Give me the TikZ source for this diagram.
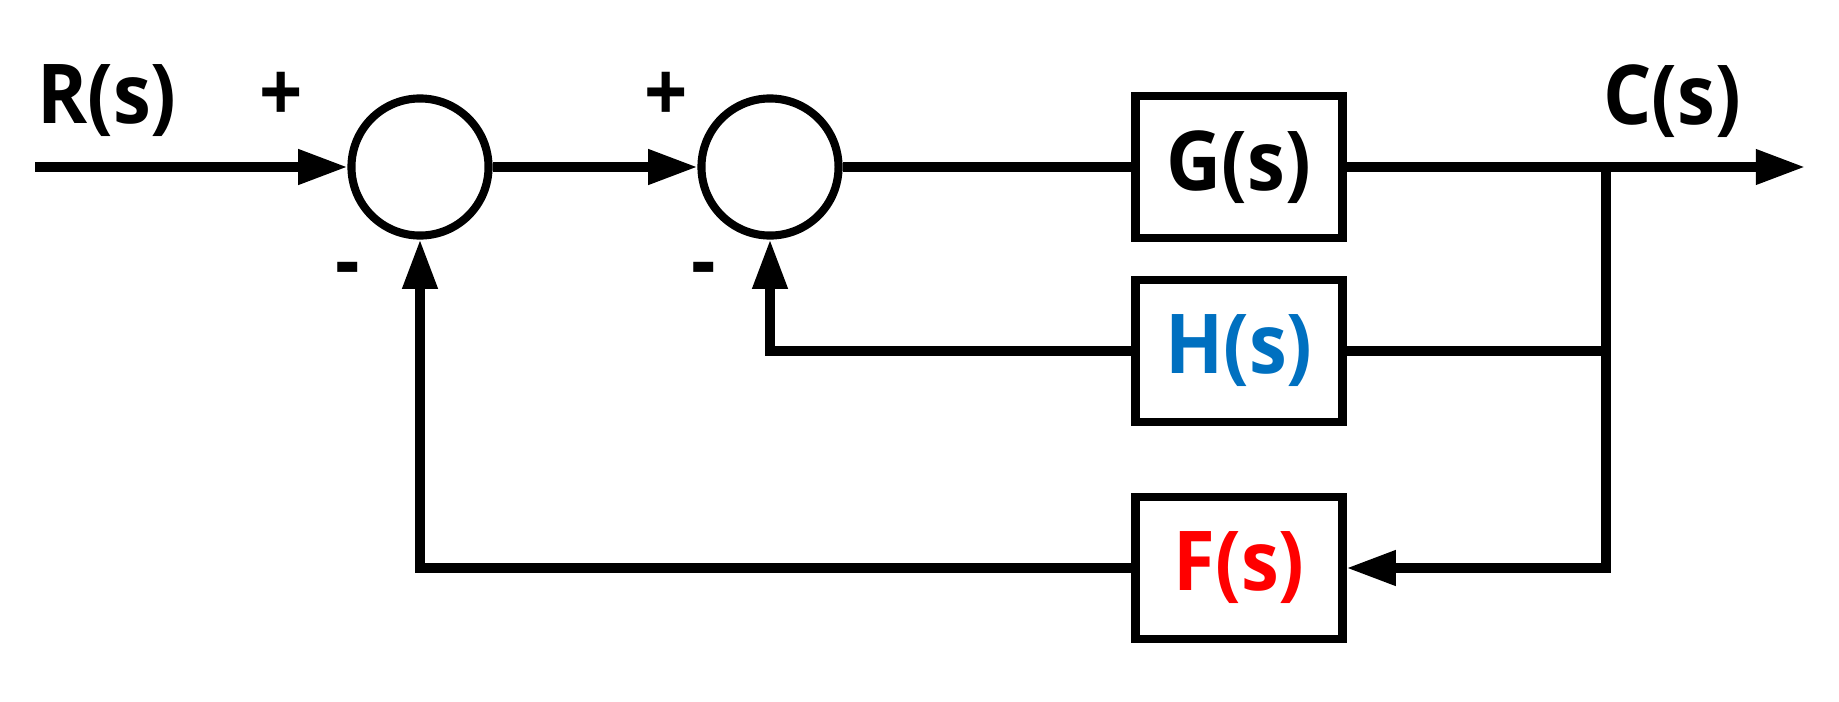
\documentclass[tikz,border=0pt]{standalone}
\usepackage{fontspec}
\setmainfont{Open Sans}[FakeStretch=0.92]
\usetikzlibrary{arrows.meta}
\definecolor{hblue}{RGB}{0,112,192}
\definecolor{fred}{RGB}{255,0,0}
\begin{document}
\begin{tikzpicture}
    [
    x=0.2845pt, y=-0.2845pt,
    line width=2.6pt,
    every node/.style={font=\fontsize{23.5}{28}\selectfont\bfseries, inner sep=0pt},
    sumnode/.style={draw, line width=2.3pt, circle, minimum size=39pt},
    block/.style={draw, line width=2.3pt, rectangle, minimum width=58.9pt, minimum height=40.4pt},
    arr/.style={-{Triangle[length=14pt,width=9.5pt]}},
    ]
    \useasboundingbox (0,0) rectangle (1839,701);
    % summing points and blocks
    \node[sumnode] (sum1) at (420,167) {};
    \node[sumnode] (sum2) at (770,167) {};
    \node[block] (gblk) at (1239,167) {G(s)};
    \node[block, text=hblue] (hblk) at (1239,351) {H(s)};
    \node[block, text=fred] (fblk) at (1239,568) {F(s)};
    \coordinate (input) at (35,167);
    \coordinate (branch) at (1606,167);
    \coordinate (output) at (1805,167);
    % signal labels
    \node (rlbl) at (107,101) {R(s)};
    \node (clbl) at (1672,101) {C(s)};
    \node (plus1) at (281,97) {+};
    \node (plus2) at (666,97) {+};
    \node (minus1) at (348,276) {-};
    \node (minus2) at (704,276) {-};
    % forward path
    \draw[arr] (input) -- (sum1);
    \draw[arr] (sum1) -- (sum2);
    \draw (sum2) -- (gblk);
    \draw[arr] (gblk) -- (output);
    % feedback paths
    \draw (branch) |- (hblk);
    \draw[arr] (hblk) -| (sum2.south);
    \draw[arr] (branch) |- (fblk);
    \draw[arr] (fblk) -| (sum1.south);
\end{tikzpicture}
\end{document}
